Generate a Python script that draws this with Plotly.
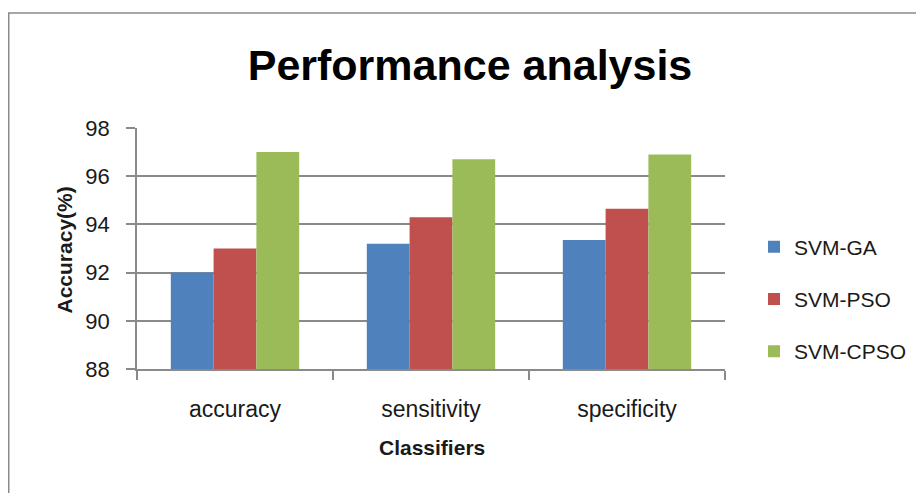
import plotly.graph_objects as go

categories = ["accuracy", "sensitivity", "specificity"]
svm_ga = [92.0, 93.2, 93.35]
svm_pso = [93.0, 94.3, 94.65]
svm_cpso = [97.0, 96.7, 96.9]
series_names = ["SVM-GA", "SVM-PSO", "SVM-CPSO"]
colors = ["#4F81BD", "#C0504D", "#9BBB59"]
y_ticks = [88, 90, 92, 94, 96, 98]

FONT = "Liberation Sans, Arial, sans-serif"
TXT = "#1a1a1a"
GRID = "#8a8a8a"

fig = go.Figure()
for name, vals, col in zip(series_names, [svm_ga, svm_pso, svm_cpso], colors):
    fig.add_trace(go.Bar(
        x=categories, y=vals, name=name, legendgroup=name,
        marker=dict(color=col, line=dict(width=0)),
    ))

# page has an 8px body margin; work in figure pixels
W, H = 916, 485
L, T = 129, 120
PW, PH = 588, 241
R, B = W - L - PW, H - T - PH

def px_x(p):
    return (p - L) / PW

def px_y(p):
    return (T + PH - p) / PH

fig.update_layout(
    width=W, height=H,
    margin=dict(l=L, r=R, t=T, b=B, autoexpand=False),
    paper_bgcolor="white", plot_bgcolor="white",
    font=dict(family=FONT, color=TXT, size=20),
    barmode="group", bargap=0.345, bargroupgap=0,
    title=dict(
        text="<b>Performance analysis</b>",
        font=dict(family=FONT, size=43, color="#000000"),
        x=462 / W, xref="container", xanchor="center",
        y=1 - 57 / H, yref="container", yanchor="middle",
    ),
    xaxis=dict(
        showline=True, linecolor=GRID, linewidth=1.5,
        ticks="outside", tickson="boundaries", ticklen=9, tickcolor=GRID, tickwidth=1.5,
        tickfont=dict(size=23, color=TXT),
        ticklabelstandoff=19,
        showgrid=False,
    ),
    yaxis=dict(
        range=[88, 98], tickvals=y_ticks, ticktext=[str(v) for v in y_ticks],
        showline=True, linecolor=GRID, linewidth=1.5,
        ticks="outside", ticklen=9, tickcolor=GRID, tickwidth=1.5,
        tickfont=dict(size=22, color=TXT),
        ticklabelstandoff=12,
        showgrid=True, gridcolor=GRID, gridwidth=1.5,
        zeroline=False,
    ),
    legend=dict(
        x=px_x(746), xanchor="left", y=px_y(291), yanchor="middle",
        font=dict(size=21, color=TXT), tracegroupgap=22,
        bgcolor="rgba(0,0,0,0)", borderwidth=0,
    ),
    annotations=[
        dict(text="<b>Accuracy(%)</b>", xref="paper", yref="paper",
             x=px_x(55.5), y=px_y(242), xanchor="center", yanchor="middle",
             textangle=-90, showarrow=False, font=dict(size=21, color=TXT)),
        dict(text="<b>Classifiers</b>", xref="paper", yref="paper",
             x=px_x(424), y=px_y(439), xanchor="center", yanchor="middle",
             showarrow=False, font=dict(size=21, color=TXT)),
    ],
    shapes=[dict(
        type="rect", xref="paper", yref="paper",
        x0=px_x(0.75), x1=px_x(930), y0=px_y(5), y1=px_y(500),
        line=dict(color="#8a8a8a", width=1.5), fillcolor="rgba(0,0,0,0)", layer="below",
    )],
)

fig.write_html("out.html")
